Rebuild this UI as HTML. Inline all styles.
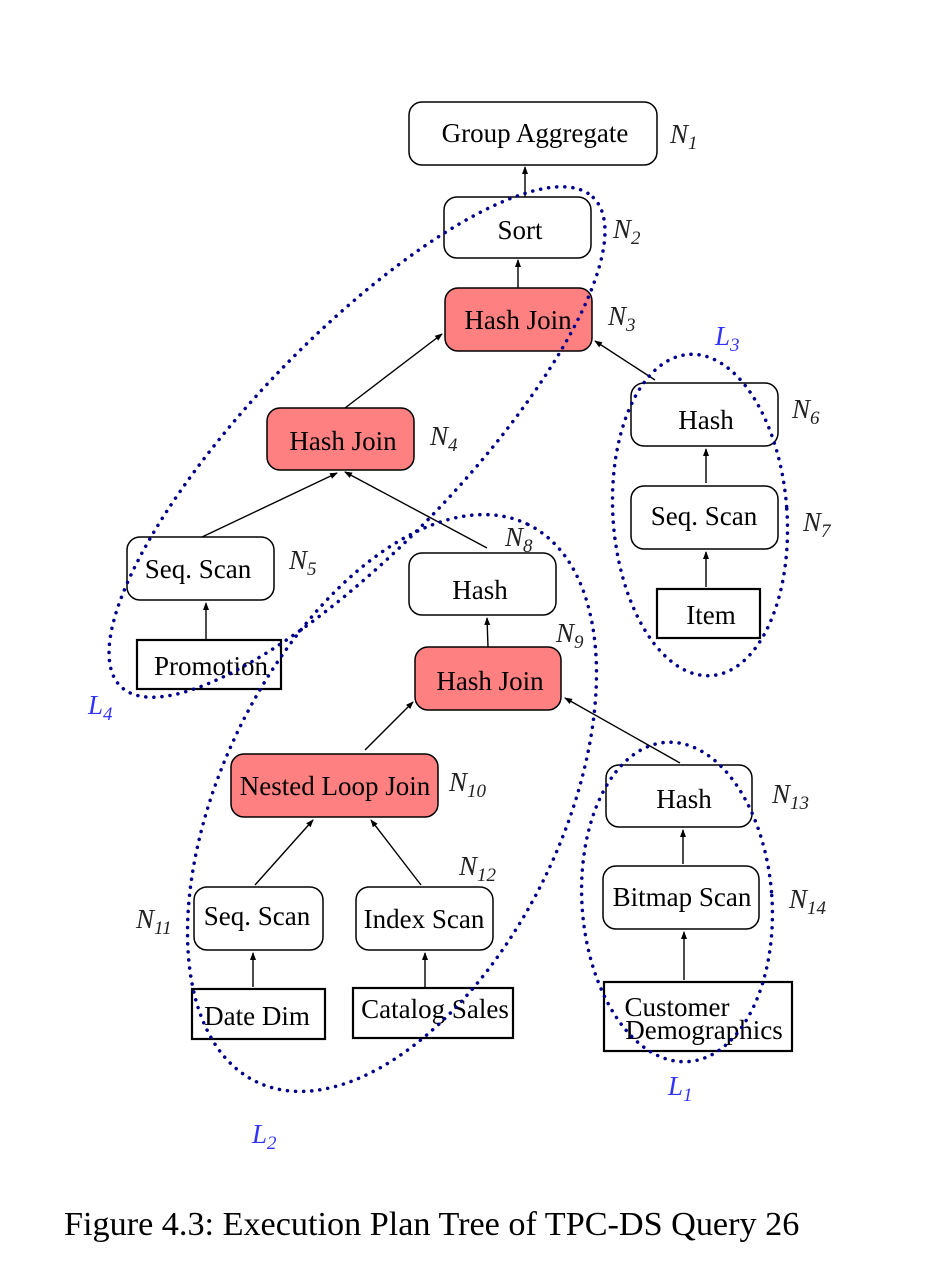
<!DOCTYPE html>
<html><head><style>
html,body{margin:0;padding:0;background:#fff;width:932px;height:1264px;overflow:hidden}
svg{display:block}
text{font-family:"Liberation Serif",serif;}
.b{font-size:27px;fill:#000;text-anchor:middle}
.n{font-size:27px;font-style:italic;fill:#222}
.l{font-size:27px;font-style:italic;fill:#3333ff}
.s{font-size:19px}
</style></head><body>
<svg width="932" height="1264" viewBox="0 0 932 1264">
<defs><marker id="a" markerWidth="8" markerHeight="8" refX="7" refY="4" orient="auto" markerUnits="userSpaceOnUse"><path d="M0,1 L8,4 L0,7 Z" fill="#000"/></marker></defs>
<g fill="#fff" stroke="#000" stroke-width="1.5">
<rect x="409" y="102" width="248" height="63" rx="13"/>
<rect x="444" y="197" width="147" height="61" rx="13"/>
<rect x="445" y="288" width="147" height="63" rx="13" fill="#ff8080"/>
<rect x="267" y="408" width="147" height="62" rx="13" fill="#ff8080"/>
<rect x="127" y="537" width="147" height="63" rx="13"/>
<rect x="409" y="553" width="147" height="62" rx="13"/>
<rect x="415" y="647" width="146" height="63" rx="13" fill="#ff8080"/>
<rect x="231" y="754" width="207" height="63" rx="13" fill="#ff8080"/>
<rect x="194" y="887" width="129" height="63" rx="13"/>
<rect x="356" y="887" width="137" height="63" rx="13"/>
<rect x="631" y="383" width="147" height="63" rx="13"/>
<rect x="631" y="486" width="147" height="63" rx="13"/>
<rect x="606" y="765" width="146" height="62" rx="13"/>
<rect x="603" y="866" width="156" height="63" rx="13"/>
</g>
<g fill="#fff" stroke="#000" stroke-width="2.2">
<rect x="137" y="640" width="144" height="49"/>
<rect x="192" y="989" width="133" height="50"/>
<rect x="353" y="988" width="160" height="50"/>
<rect x="657" y="589" width="103" height="49"/>
<rect x="604" y="982" width="188" height="69"/>
</g>
<g stroke="#000" stroke-width="1.4" marker-end="url(#a)">
<line x1="525" y1="197" x2="525" y2="167"/>
<line x1="518" y1="288" x2="518" y2="260"/>
<line x1="345" y1="408" x2="442" y2="334"/>
<line x1="655" y1="380" x2="595" y2="341"/>
<line x1="202" y1="537" x2="337" y2="473"/>
<line x1="487" y1="548" x2="345" y2="472"/>
<line x1="206" y1="639" x2="206" y2="603"/>
<line x1="488" y1="647" x2="487" y2="618"/>
<line x1="365" y1="750" x2="413" y2="702"/>
<line x1="680" y1="763" x2="565" y2="698"/>
<line x1="255" y1="885" x2="313" y2="820"/>
<line x1="421" y1="885" x2="371" y2="820"/>
<line x1="253" y1="987" x2="253" y2="953"/>
<line x1="425" y1="987" x2="425" y2="953"/>
<line x1="706" y1="587" x2="706" y2="552"/>
<line x1="706" y1="483" x2="706" y2="449"/>
<line x1="683" y1="864" x2="683" y2="830"/>
<line x1="684" y1="980" x2="684" y2="932"/>
</g>
<g class="b">
<text x="535" y="142">Group Aggregate</text>
<text x="520" y="239">Sort</text>
<text x="518" y="329">Hash Join</text>
<text x="343" y="450">Hash Join</text>
<text x="198" y="578">Seq. Scan</text>
<text x="211" y="675">Promotion</text>
<text x="480" y="599">Hash</text>
<text x="490" y="690">Hash Join</text>
<text x="335" y="795">Nested Loop Join</text>
<text x="257" y="925">Seq. Scan</text>
<text x="424" y="928">Index Scan</text>
<text x="257" y="1025">Date Dim</text>
<text x="435" y="1018">Catalog Sales</text>
<text x="706" y="429">Hash</text>
<text x="704" y="525">Seq. Scan</text>
<text x="711" y="624">Item</text>
<text x="684" y="808">Hash</text>
<text x="682" y="906">Bitmap Scan</text>
<text x="677" y="1016">Customer</text>
<text x="704" y="1039">Demographics</text>
</g>
<g fill="none" stroke="#00008b" stroke-width="3.5" stroke-dasharray="0.1 8" stroke-linecap="round">
<ellipse cx="357" cy="442" rx="340" ry="105" transform="rotate(-46 357 442)"/>
<ellipse cx="392" cy="803" rx="310" ry="170" transform="rotate(-64 392 803)"/>
<ellipse cx="700" cy="515" rx="87" ry="161" transform="rotate(-4 700 515)"/>
<ellipse cx="677" cy="902" rx="95" ry="160" transform="rotate(-4 677 902)"/>
</g>
<g class="n">
<text x="670" y="143">N<tspan class="s" dy="6">1</tspan></text>
<text x="613" y="238">N<tspan class="s" dy="6">2</tspan></text>
<text x="608" y="325">N<tspan class="s" dy="6">3</tspan></text>
<text x="430" y="445">N<tspan class="s" dy="6">4</tspan></text>
<text x="289" y="569">N<tspan class="s" dy="6">5</tspan></text>
<text x="792" y="418">N<tspan class="s" dy="6">6</tspan></text>
<text x="803" y="531">N<tspan class="s" dy="6">7</tspan></text>
<text x="505" y="546">N<tspan class="s" dy="6">8</tspan></text>
<text x="556" y="642">N<tspan class="s" dy="6">9</tspan></text>
<text x="449" y="791">N<tspan class="s" dy="6">10</tspan></text>
<text x="136" y="928">N<tspan class="s" dy="6">11</tspan></text>
<text x="459" y="875">N<tspan class="s" dy="6">12</tspan></text>
<text x="772" y="803">N<tspan class="s" dy="6">13</tspan></text>
<text x="789" y="908">N<tspan class="s" dy="6">14</tspan></text>
</g>
<g class="l">
<text x="715" y="345">L<tspan class="s" dy="6">3</tspan></text>
<text x="88" y="714">L<tspan class="s" dy="6">4</tspan></text>
<text x="252" y="1143">L<tspan class="s" dy="6">2</tspan></text>
<text x="668" y="1095">L<tspan class="s" dy="6">1</tspan></text>
</g>
<text x="64" y="1235" style="font-size:34.2px;fill:#000">Figure 4.3: Execution Plan Tree of TPC-DS Query 26</text>
</svg>
</body></html>
